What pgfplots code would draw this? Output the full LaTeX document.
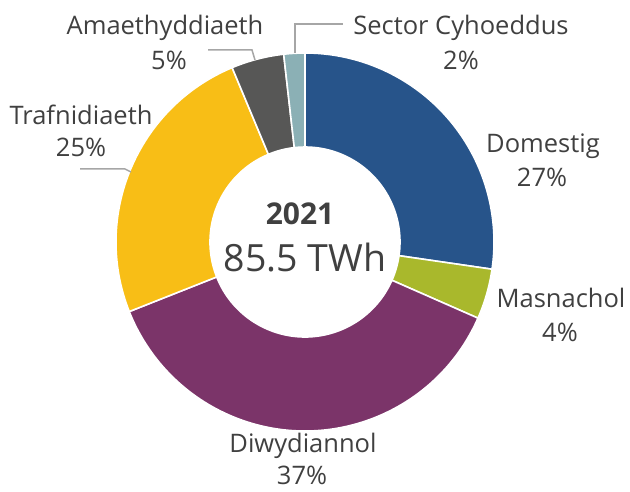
\documentclass[border=0pt]{standalone}
\usepackage{pgfplots}
\pgfplotsset{compat=1.18}
\usepackage{pgfplotstable}
\usepackage{fontspec}
\setmainfont{Open Sans}
\definecolor{cDom}{HTML}{27548A}
\definecolor{cMas}{HTML}{A9B82C}
\definecolor{cDiw}{HTML}{7B3469}
\definecolor{cTra}{HTML}{F8BE16}
\definecolor{cAma}{HTML}{575756}
\definecolor{cSec}{HTML}{8BB0B5}
\definecolor{txt}{HTML}{404040}
\definecolor{lead}{HTML}{A6A6A6}
\pgfplotstableread[col sep=comma]{
label,value,color
Domestig,27.3,cDom
Masnachol,4.3,cMas
Diwydiannol,37.4,cDiw
Trafnidiaeth,24.7,cTra
Amaethyddiaeth,4.5,cAma
Sector Cyhoeddus,1.8,cSec
}\shares
\begin{document}
\begin{tikzpicture}
\begin{axis}[name=pie,x=1pt,y=1pt,xmin=0,xmax=630,ymin=0,ymax=491,hide axis,scale only axis,clip=false]
\def\cx{305}\def\cy{249}\def\Ro{189}\def\Ri{95}
\gdef\angA{90}
\pgfplotsforeachungrouped \i in {0,...,5}{%
  \pgfplotstablegetelem{\i}{value}\of\shares \let\val\pgfplotsretval
  \pgfplotstablegetelem{\i}{color}\of\shares \let\col\pgfplotsretval
  \pgfmathsetmacro\angB{\angA-3.6*\val}%
  \edef\temp{\noexpand\fill[\col, draw=white, line width=1.6pt, line join=round] (axis cs:{\cx+\Ro*cos(\angA)},{\cy+\Ro*sin(\angA)}) arc[start angle=\angA, end angle=\angB, radius=\Ro pt] -- (axis cs:{\cx+\Ri*cos(\angB)},{\cy+\Ri*sin(\angB)}) arc[start angle=\angB, end angle=\angA, radius=\Ri pt] -- cycle;}%
  \temp
  \global\let\angA\angB
}
% leader lines
\draw[lead, line width=1.5pt] (axis cs:295,438) -- (axis cs:295,467) -- (axis cs:343,467);
\draw[lead, line width=1.5pt] (axis cs:208,441) -- (axis cs:252,441) -- (axis cs:255,431);
\draw[lead, line width=1.5pt] (axis cs:80,322) -- (axis cs:125,322) -- (axis cs:131,319);
% labels
\tikzset{lbl/.style={anchor=base, text=txt, inner sep=0pt, font=\fontsize{25.5}{30}\selectfont}}
\node[lbl] at (axis cs:461,456) {Sector Cyhoeddus};
\node[lbl] at (axis cs:461,421) {2\%};
\node[lbl] at (axis cs:165,456) {Amaethyddiaeth};
\node[lbl] at (axis cs:169,421) {5\%};
\node[lbl] at (axis cs:543,338) {Domestig};
\node[lbl] at (axis cs:542,304) {27\%};
\node[lbl] at (axis cs:561,183) {Masnachol};
\node[lbl] at (axis cs:560,149) {4\%};
\node[lbl] at (axis cs:81,366) {Trafnidiaeth};
\node[lbl] at (axis cs:81,334) {25\%};
\node[lbl] at (axis cs:303,39) {Diwydiannol};
\node[lbl] at (axis cs:302,7) {37\%};
\node[anchor=base, text=txt, inner sep=0pt, font=\fontsize{30}{36}\selectfont\bfseries] at (axis cs:300,266) {2021};
\node[anchor=base, text=txt, inner sep=0pt, font=\fontsize{37.5}{42}\selectfont] at (axis cs:305,219) {85.5 TWh};
\end{axis}
\pgfresetboundingbox
\useasboundingbox (pie.south west) rectangle (pie.north east);
\end{tikzpicture}
\end{document}
